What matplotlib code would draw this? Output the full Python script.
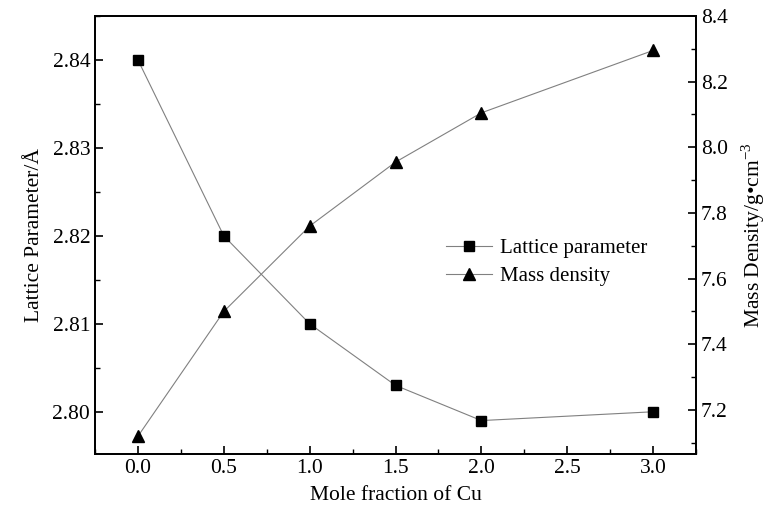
import matplotlib
matplotlib.use('Agg')
import matplotlib.pyplot as plt
from matplotlib.ticker import MultipleLocator, FormatStrFormatter

plt.rcParams['font.family'] = ['Liberation Serif', 'DejaVu Serif']
plt.rcParams['mathtext.fontset'] = 'custom'
plt.rcParams['mathtext.rm'] = 'Liberation Serif'

cu = [0.0, 0.5, 1.0, 1.5, 2.0, 3.0]
lattice = [2.840, 2.820, 2.810, 2.803, 2.799, 2.800]
density = [7.12, 7.50, 7.76, 7.955, 8.105, 8.295]

fig = plt.figure(figsize=(7.68, 5.12), dpi=100)
ax = fig.add_axes([0.1237, 0.1133, 0.7826, 0.8555])
ax2 = ax.twinx()

l1, = ax.plot(cu, lattice, color='0.5', lw=0.8, marker='s', ms=7,
              mfc='black', mec='black', label='Lattice parameter')
l2, = ax2.plot(cu, density, color='0.5', lw=0.8, marker='^', ms=9,
               mfc='black', mec='black', label='Mass density')

ax.set_xlim(-0.25, 3.25)
ax.set_ylim(2.7952, 2.8450)
ax2.set_ylim(7.066, 8.4)

ax.xaxis.set_major_locator(MultipleLocator(0.5))
ax.xaxis.set_minor_locator(MultipleLocator(0.25))
ax.yaxis.set_major_locator(MultipleLocator(0.01))
ax.yaxis.set_minor_locator(MultipleLocator(0.005))
ax2.yaxis.set_major_locator(MultipleLocator(0.2))
ax2.yaxis.set_minor_locator(MultipleLocator(0.1))
ax.xaxis.set_major_formatter(FormatStrFormatter('%.1f'))
ax.yaxis.set_major_formatter(FormatStrFormatter('%.2f'))
ax2.yaxis.set_major_formatter(FormatStrFormatter('%.1f'))

for a in (ax, ax2):
    a.tick_params(which='major', direction='in', length=6, width=1.2, labelsize=15.5)
    a.tick_params(which='minor', direction='in', length=3.5, width=1.0)
    for s in a.spines.values():
        s.set_linewidth(1.3)
ax.tick_params(axis='y', which='both', right=False)
ax.tick_params(axis='x', which='both', top=False)

ax.set_xlabel('Mole fraction of Cu', fontsize=15.5, labelpad=6)
ax.set_ylabel('Lattice Parameter/Å', fontsize=15.5, labelpad=6)
ax2.set_ylabel('Mass Density/g•cm$^{-3}$', fontsize=15.5, labelpad=8)

ax.legend([l1, l2], ['Lattice parameter', 'Mass density'], loc='upper left',
          bbox_to_anchor=(0.556, 0.57), bbox_transform=fig.transFigure,
          frameon=False, fontsize=15, handlelength=2.2, handletextpad=0.4,
          labelspacing=0.4)

fig.savefig('out.png', dpi=100)
